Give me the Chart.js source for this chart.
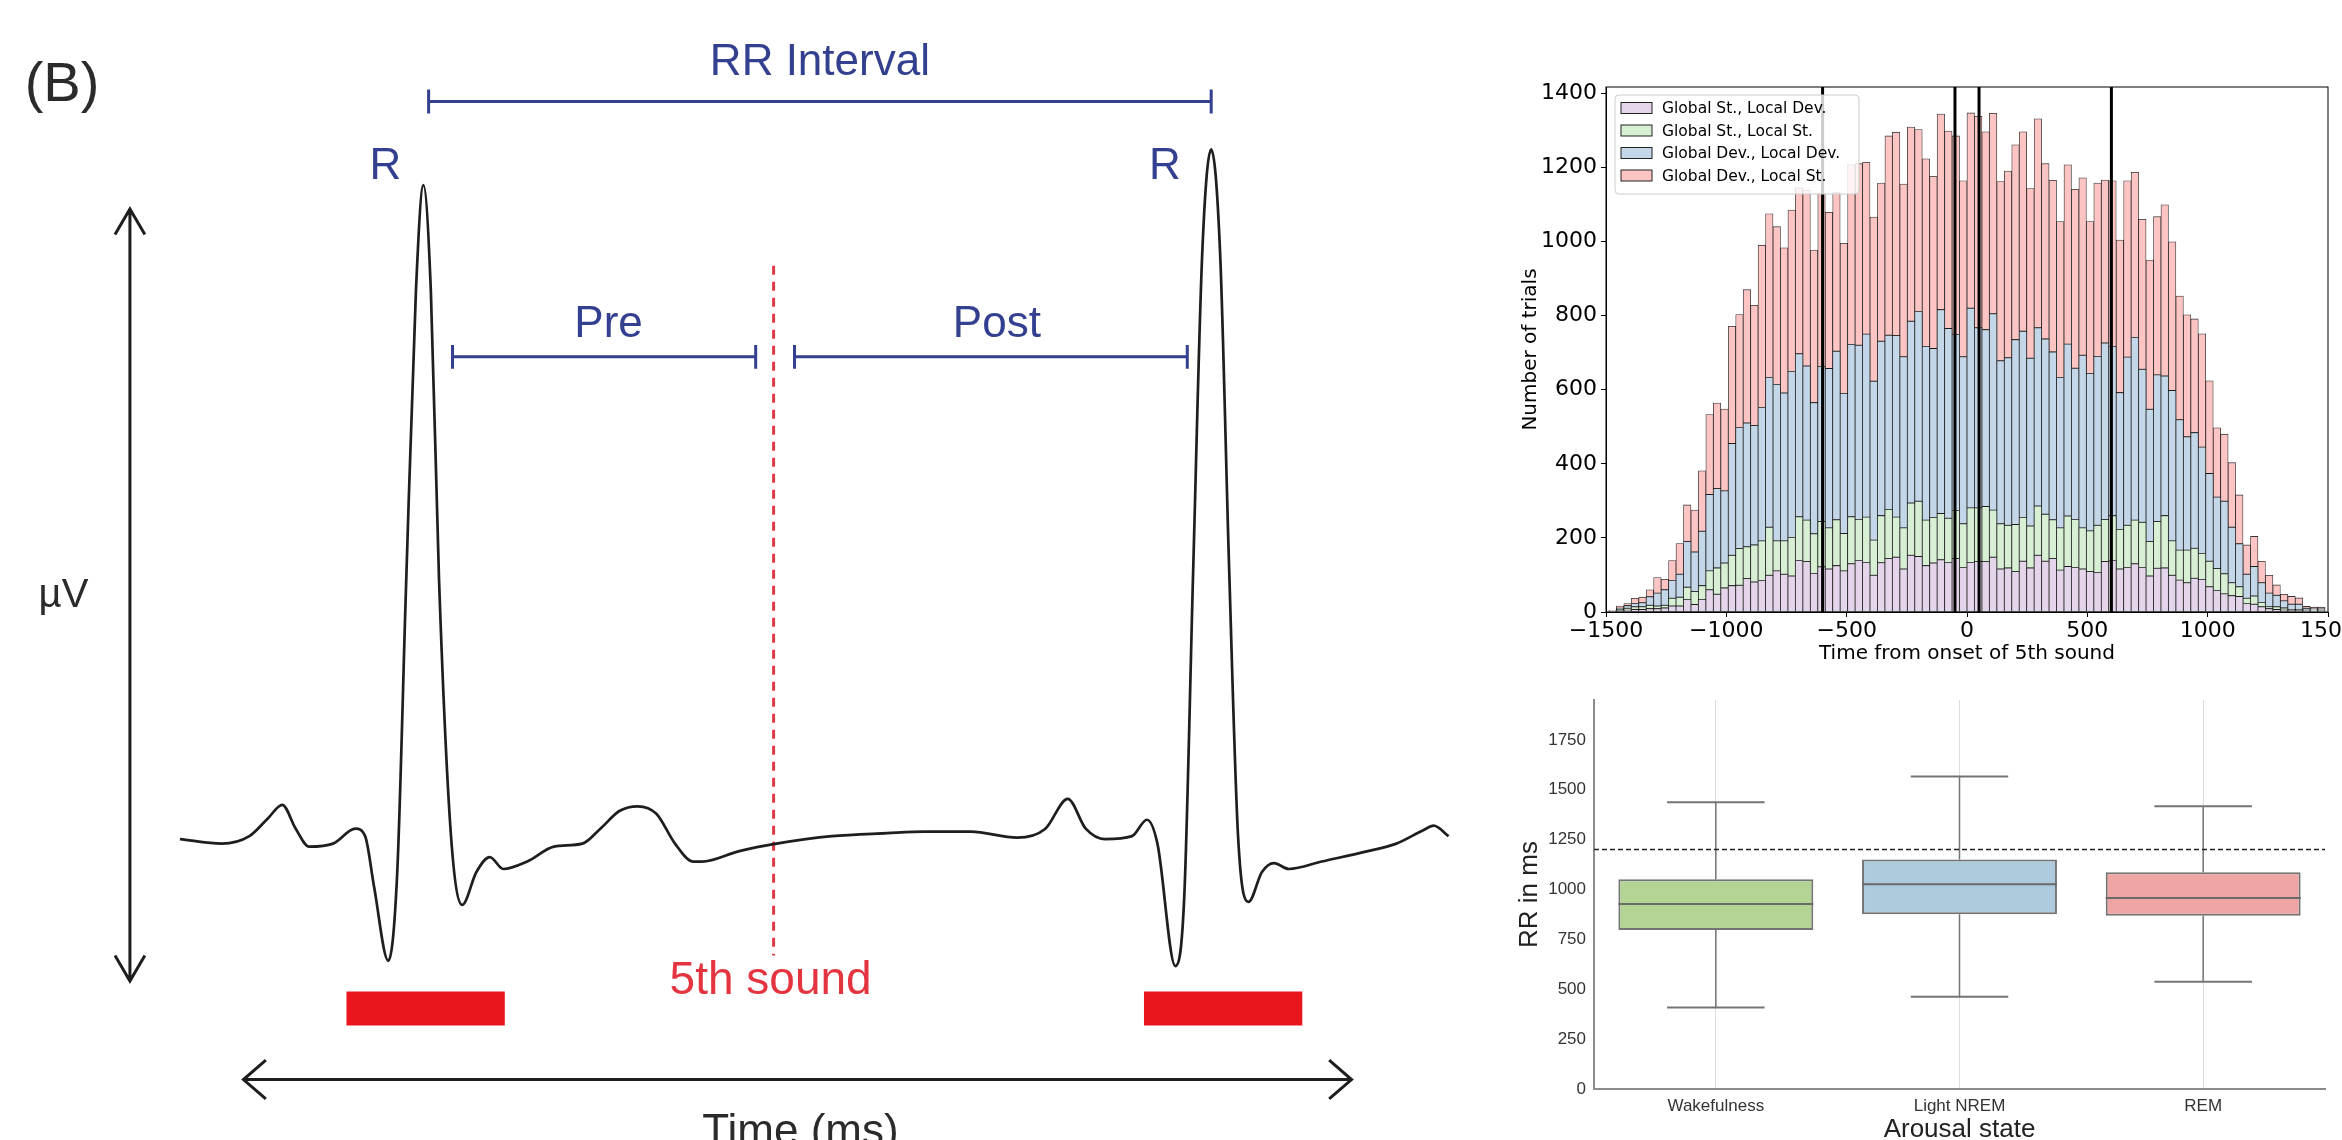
<!DOCTYPE html>
<html>
<head>
<meta charset="utf-8">
<script src="https://cdn.jsdelivr.net/npm/chart.js@4.4.1/dist/chart.umd.min.js"></script>
<style>
  body { margin: 0; background: #fff; width: 2342px; height: 1140px; overflow: hidden; position: relative; }
  canvas { position: absolute; }
  #ecg { left: 0; top: 0; }
  #hist { left: 1500px; top: 60px; }
  #box { left: 1500px; top: 690px; }
</style>
</head>
<body>
<canvas id="ecg" width="1480" height="1140"></canvas>
<canvas id="hist" width="842" height="620"></canvas>
<canvas id="box" width="842" height="450"></canvas>
<script>
// ---------- panel B: schematic ECG (time in ms, amplitude in arbitrary µV) ----------
const ecgTime = [1,57,94,119,138,156,174,206,236,249,261,280,292,304,317,327,337,348,364,379,
  398,416,434,466,502,540,564,590,614,639,664,688,700,750,800,874,948,998,1060,1122,
  1160,1190,1214,1240,1276,1296,1310,1334,1346,1358,1370,1382,1394,1406,1418,1432,1450,1466,1486,1530,
  1592,1630,1666,1680,1700];
const ecgVolt = [0,-6,4,28,46,14,-10,-6,14,4,-64,-163,-44,346,734,876,734,346,4,-88,
  -44,-24,-40,-30,-10,-6,14,38,44,34,-6,-30,-30,-16,-6,4,8,10,10,2,
  14,54,14,0,4,26,-6,-170,-76,364,784,924,784,364,4,-84,-44,-32,-40,-30,
  -16,-6,12,18,4];

const rrSpan = [334, 1382];
const preSpan = [366, 772];
const postSpan = [824, 1350];
const soundTime = 796;
const beatBlocks = [[224, 436], [1292, 1504]];

const panelLabels = [
  {text: '(B)', x: -157, y: 1009, size: 56, color: '#2b2b2b'},
  {text: 'RR Interval', x: 858, y: 1040, size: 44, color: '#33408f'},
  {text: 'R', x: 276, y: 900, size: 44, color: '#33408f'},
  {text: 'R', x: 1320, y: 900, size: 44, color: '#33408f'},
  {text: 'Pre', x: 575, y: 689, size: 44, color: '#33408f'},
  {text: 'Post', x: 1095, y: 689, size: 44, color: '#33408f'},
  {text: 'µV', x: -155, y: 326, size: 40, color: '#2b2b2b'},
  {text: '5th sound', x: 792, y: -190, size: 46, color: '#e3343f'},
  {text: 'Time (ms)', x: 832, y: -394, size: 44, color: '#2b2b2b'}
];

// ---------- stacked histogram ----------
const binStart = -1488, binWidth = 31;
const seriesNames = ['Global St., Local Dev.', 'Global St., Local St.', 'Global Dev., Local Dev.', 'Global Dev., Local St.'];
const seriesColors = ['#e4d5ea', '#d7efd3', '#c3d7e9', '#fcc5c3'];
const stLocalDev = [1,4,5,7,7,9,9,11,16,16, 34,20,34,60,48,65,71,72,90,81,
  85,99,111,102,97,139,136,104,122,116, 125,111,130,139,134,99,133,144,148,116,
  153,150,125,132,141,134,144,120,134,136, 136,148,116,119,109,137,119,153,137,144,
  113,123,120,116,109,107,136,139,116,120, 130,120,97,118,119,99,86,79,91,88,
  68,58,49,44,42,23,21,14,9,7, 5,4,4,3,2,2];
const stLocalSt = [1,3,5,7,7,9,7,7,21,24, 33,35,37,51,71,67,82,99,86,100,
  107,130,81,90,104,118,112,107,122,111, 124,101,127,111,122,95,127,133,108,111,
  141,149,123,123,125,119,130,118,147,145, 149,127,122,115,127,118,113,133,127,105,
  114,136,130,111,110,127,114,121,107,114, 118,122,93,126,141,93,81,88,81,70,
  69,59,54,35,26,14,22,12,5,7, 6,3,3,2,3,2];
const devLocalDev = [1,3,7,9,11,23,35,42,48,62, 123,107,147,206,214,195,302,327,334,322,
  360,404,422,399,448,440,416,354,419,430, 455,378,465,470,494,429,471,470,490,462,
  491,512,469,456,550,512,475,451,539,486, 477,530,440,452,499,503,453,481,473,453,
  406,464,408,466,425,456,476,457,369,454, 493,413,357,396,377,406,352,306,312,287,
  237,193,196,150,116,65,80,53,37,31, 19,14,14,5,3,4];
const devLocalSt = [1,6,6,14,15,19,42,28,54,83, 99,113,163,216,231,221,316,305,360,325,
  438,442,426,392,436,448,475,412,468,422, 428,405,485,490,464,443,427,538,549,466,
  524,491,506,465,528,533,536,475,527,571, 534,541,484,504,526,538,458,564,473,463,
  421,484,483,479,410,468,440,447,412,476, 446,405,403,427,462,401,334,329,307,306,
  250,187,181,174,132,79,81,58,48,28, 18,21,17,5,5,5];
const windowMarks = [-600, -50, 50, 600];
const histXTicks = [-1500, -1000, -500, 0, 500, 1000, 1500];
const histYTicks = [0, 200, 400, 600, 800, 1000, 1200, 1400];
const histYMax = 1417;

// ---------- box plot ----------
const states = ['Wakefulness', 'Light NREM', 'REM'];
const rrLow = [409, 463, 538];
const rrQ1 = [797, 876, 869];
const rrMedian = [927, 1026, 958];
const rrQ3 = [1051, 1150, 1086];
const rrHigh = [1437, 1566, 1417];
const rrRef = 1200;
const boxColors = ['#b3d495', '#aecbdd', '#efa5a4'];
const rrTicks = [0, 250, 500, 750, 1000, 1250, 1500, 1750];

Chart.defaults.font.family = 'DejaVu Sans';

// join polylines into one dataset, with gaps between them
function path(...parts) {
  const out = [];
  parts.forEach((p, i) => {
    if (i > 0) out.push({x: p[0].x, y: null});
    p.forEach(pt => out.push(pt));
  });
  return out;
}
function bracket(span, lvl) {
  return path(
    [{x: span[0], y: lvl - 16}, {x: span[0], y: lvl + 16}],
    [{x: span[0], y: lvl}, {x: span[1], y: lvl}],
    [{x: span[1], y: lvl - 16}, {x: span[1], y: lvl + 16}]
  );
}
function lineSet(data, color, width, extra) {
  return Object.assign({type: 'line', data, borderColor: color, borderWidth: width,
    pointRadius: 0, fill: false, spanGaps: false, tension: 0}, extra || {});
}

const textPlugin = {
  id: 'panelText',
  afterDatasetsDraw(chart) {
    const {ctx, scales: {x, y}} = chart;
    ctx.save();
    ctx.textAlign = 'center';
    ctx.textBaseline = 'middle';
    panelLabels.forEach(l => {
      ctx.font = l.size + 'px "Liberation Sans", Arial, sans-serif';
      ctx.fillStyle = l.color;
      ctx.fillText(l.text, x.getPixelForValue(l.x), y.getPixelForValue(l.y));
    });
    ctx.restore();
  }
};

const navy = '#33408f';
new Chart(document.getElementById('ecg'), {
  type: 'line',
  data: {
    datasets: [
      lineSet(ecgTime.map((t, i) => ({x: t, y: ecgVolt[i]})), '#1e1e1e', 2.7, {cubicInterpolationMode: 'monotone', tension: 0.4}),
      lineSet(bracket(rrSpan, 988), navy, 3),
      lineSet(bracket(preSpan, 646), navy, 3),
      lineSet(bracket(postSpan, 646), navy, 3),
      lineSet([{x: soundTime, y: 768}, {x: soundTime, y: -156}], '#e03a45', 3, {borderDash: [9, 7]}),
      lineSet(path(...beatBlocks.map(b => [{x: b[0], y: -227}, {x: b[1], y: -227}])), '#e8151c', 34, {borderCapStyle: 'butt'}),
      // amplitude arrow
      lineSet(path([{x: -66, y: -190}, {x: -66, y: 844}],
        [{x: -86, y: 810}, {x: -66, y: 844}, {x: -46, y: 810}],
        [{x: -86, y: -156}, {x: -66, y: -190}, {x: -46, y: -156}]), '#1e1e1e', 3),
      // time arrow
      lineSet(path([{x: 86, y: -322}, {x: 1570, y: -322}],
        [{x: 116, y: -296}, {x: 86, y: -322}, {x: 116, y: -348}],
        [{x: 1540, y: -296}, {x: 1570, y: -322}, {x: 1540, y: -348}]), '#1e1e1e', 3)
    ]
  },
  options: {
    responsive: false, animation: false, events: [],
    layout: {padding: 0},
    plugins: {legend: {display: false}, tooltip: {enabled: false}},
    scales: {
      x: {type: 'linear', display: false, min: -240, max: 1742},
      y: {type: 'linear', display: false, min: -403, max: 1124}
    }
  },
  plugins: [textPlugin]
});

// ---------- histogram ----------
const binCenters = stLocalDev.map((_, i) => binStart + binWidth * (i + 0.5));
const layers = [stLocalDev, stLocalSt, devLocalDev, devLocalSt];

const histLegend = {
  id: 'histLegend',
  afterDatasetsDraw(chart) {
    const {ctx, chartArea} = chart;
    const x0 = chartArea.left + 9, y0 = chartArea.top + 8;
    const w = 244, h = 99;
    ctx.save();
    ctx.beginPath();
    ctx.roundRect(x0, y0, w, h, 4);
    ctx.fillStyle = 'rgba(255,255,255,0.8)';
    ctx.fill();
    ctx.strokeStyle = '#cccccc';
    ctx.lineWidth = 1;
    ctx.stroke();
    ctx.font = '15.5px "DejaVu Sans"';
    ctx.textBaseline = 'middle';
    seriesNames.forEach((name, i) => {
      const cy = y0 + 13 + i * 22.5;
      ctx.fillStyle = seriesColors[i];
      ctx.fillRect(x0 + 6, cy - 5.5, 31, 11);
      ctx.strokeStyle = '#222';
      ctx.strokeRect(x0 + 6, cy - 5.5, 31, 11);
      ctx.fillStyle = '#000';
      ctx.fillText(name, x0 + 47, cy + 1);
    });
    ctx.restore();
  }
};
const frame = {
  id: 'frame',
  afterDraw(chart) {
    const {ctx, chartArea: a} = chart;
    ctx.save();
    ctx.strokeStyle = '#000';
    ctx.lineWidth = 1;
    ctx.strokeRect(a.left, a.top, a.right - a.left, a.bottom - a.top);
    ctx.restore();
  }
};

new Chart(document.getElementById('hist'), {
  type: 'bar',
  data: {
    datasets: layers.map((vals, k) => ({
      type: 'bar', label: seriesNames[k],
      data: vals.map((v, i) => ({x: binCenters[i], y: v})),
      backgroundColor: seriesColors[k], borderColor: 'rgba(0,0,0,0.8)', borderWidth: 0.8,
      borderSkipped: false, barPercentage: 1, categoryPercentage: 1, order: 1
    })).concat(windowMarks.map(m => lineSet([{x: m, y: 0}, {x: m, y: histYMax}], '#000', 3, {order: -1})))
  },
  options: {
    responsive: false, animation: false, events: [],
    layout: {padding: {top: 27, right: 14, left: 0, bottom: 0}},
    plugins: {legend: {display: false}, tooltip: {enabled: false}},
    scales: {
      x: {
        type: 'linear', min: -1500, max: 1500, stacked: true, offset: false,
        afterBuildTicks: s => { s.ticks = histXTicks.map(v => ({value: v})); },
        afterFit: s => { s.height = 68; s.paddingLeft = 0; s.paddingRight = 0; },
        ticks: {font: {size: 22}, color: '#000', padding: 1, maxRotation: 0, minRotation: 0, autoSkip: false,
          callback: v => String(v).replace('-', '\u2212')},
        grid: {offset: false, drawOnChartArea: false, drawTicks: true, tickLength: 5, color: '#000'},
        border: {display: true, color: '#000', width: 1},
        title: {display: true, text: 'Time from onset of 5th sound', font: {size: 20}, color: '#000', padding: {top: 0, bottom: 14}}
      },
      y: {
        type: 'linear', min: 0, max: histYMax, stacked: true,
        afterBuildTicks: s => { s.ticks = histYTicks.map(v => ({value: v})); },
        afterFit: s => { s.width = 106; s.paddingTop = 0; s.paddingBottom = 0; },
        ticks: {font: {size: 22}, color: '#000', padding: 4, callback: v => String(v)},
        grid: {drawOnChartArea: false, drawTicks: true, tickLength: 5, color: '#000'},
        border: {display: true, color: '#000', width: 1},
        title: {display: true, text: 'Number of trials', font: {size: 20}, color: '#000', padding: {top: 19, bottom: 0}}
      }
    }
  },
  plugins: [histLegend, frame]
});

// ---------- box plot ----------
const boxHalf = 0.4, capHalf = 0.2;
const whiskers = path(...states.flatMap((s, i) => [
  [{x: i, y: rrLow[i]}, {x: i, y: rrQ1[i]}],
  [{x: i, y: rrQ3[i]}, {x: i, y: rrHigh[i]}]
]));
const caps = path(...states.flatMap((s, i) => [
  [{x: i - capHalf, y: rrLow[i]}, {x: i + capHalf, y: rrLow[i]}],
  [{x: i - capHalf, y: rrHigh[i]}, {x: i + capHalf, y: rrHigh[i]}]
]));
const medians = path(...states.map((s, i) => [{x: i - boxHalf, y: rrMedian[i]}, {x: i + boxHalf, y: rrMedian[i]}]));

const boxFont = '"Liberation Sans", Arial, sans-serif';
new Chart(document.getElementById('box'), {
  type: 'bar',
  data: {
    datasets: [
      {type: 'bar', data: states.map((s, i) => ({x: i, y: [rrQ1[i], rrQ3[i]]})),
        backgroundColor: boxColors, borderColor: '#747474', borderWidth: 2, borderSkipped: false,
        barPercentage: 0.8, categoryPercentage: 1, order: 1},
      lineSet(whiskers, '#747474', 1.5, {order: 0}),
      lineSet(caps, '#747474', 2, {order: 0}),
      lineSet(medians, '#6a6a6a', 2, {order: -1}),
      lineSet([{x: -0.5, y: rrRef}, {x: 2.5, y: rrRef}], '#222', 1.5, {borderDash: [5, 3], order: -1})
    ]
  },
  options: {
    responsive: false, animation: false, events: [],
    layout: {padding: {top: 10, right: 17, left: 0, bottom: 0}},
    plugins: {legend: {display: false}, tooltip: {enabled: false}},
    scales: {
      x: {
        type: 'linear', min: -0.5, max: 2.5, offset: false,
        afterBuildTicks: s => { s.ticks = states.map((_, i) => ({value: i})); },
        afterFit: s => { s.height = 51; s.paddingLeft = 0; s.paddingRight = 0; },
        ticks: {font: {family: boxFont, size: 17}, color: '#333', padding: 7, maxRotation: 0, autoSkip: false,
          callback: v => states[v]},
        grid: {offset: false, drawOnChartArea: true, drawTicks: false, color: '#dddddd', lineWidth: 1},
        border: {display: true, color: '#8c8c8c', width: 2},
        title: {display: true, text: 'Arousal state', font: {family: boxFont, size: 26}, color: '#222', padding: {top: 0, bottom: -5}}
      },
      y: {
        type: 'linear', min: 0, max: 1950,
        afterBuildTicks: s => { s.ticks = rrTicks.map(v => ({value: v})); },
        afterFit: s => { s.width = 94; s.paddingTop = 0; s.paddingBottom = 0; },
        ticks: {font: {family: boxFont, size: 17}, color: '#333', padding: 8, callback: v => String(v)},
        grid: {display: false, drawTicks: false},
        border: {display: true, color: '#8c8c8c', width: 2},
        title: {display: true, text: 'RR in ms', font: {family: boxFont, size: 26}, color: '#222', padding: {top: 14, bottom: 0}}
      }
    }
  }
});
</script>
</body>
</html>
